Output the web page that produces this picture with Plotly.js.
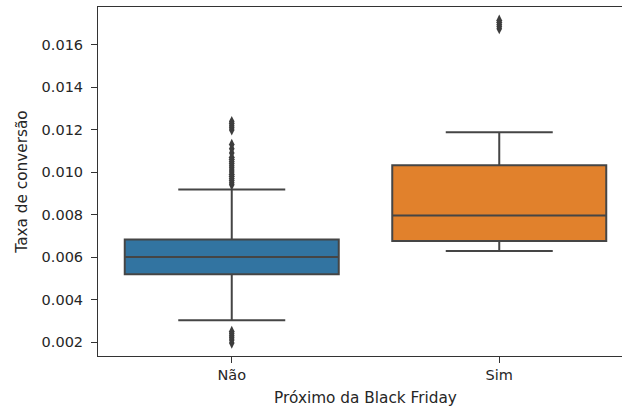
<!DOCTYPE html>
<html>
<head>
<meta charset="utf-8">
<script src="https://cdn.plot.ly/plotly-3.0.1.min.js"></script>
<style>
html,body{margin:0;padding:0;overflow:hidden;background:#fff;}
#chart{width:640px;height:407px;}
</style>
</head>
<body>
<div id="chart"></div>
<script>
// Data
const categories = ['Não', 'Sim'];
const q1 = [0.00519, 0.00676];
const median = [0.00600, 0.00795];
const q3 = [0.00683, 0.01032];
const lowerFence = [0.00302, 0.00628];
const upperFence = [0.00918, 0.01187];
const outliersNao = [0.00195, 0.0021, 0.0022, 0.0023, 0.0024, 0.0025,
  0.0094, 0.0095, 0.0096, 0.0097, 0.0098, 0.0099, 0.0100, 0.0101, 0.0102,
  0.0103, 0.0104, 0.0105, 0.0106, 0.0107, 0.0109, 0.0111, 0.0113,
  0.01198, 0.01208, 0.01218, 0.01228, 0.01238];
const outliersSim = [0.01675, 0.01685, 0.01695, 0.01705, 0.01715];
const yTicks = [0.002, 0.004, 0.006, 0.008, 0.010, 0.012, 0.014, 0.016];

const colors = ['#3274a1', '#e1812c'];
const lineGray = '#454545';
const outlierSets = [outliersNao, outliersSim];

const traces = [];
categories.forEach((c, i) => {
  traces.push({
    type: 'box',
    x: [c],
    q1: [q1[i]], median: [median[i]], q3: [q3[i]],
    lowerfence: [lowerFence[i]], upperfence: [upperFence[i]],
    fillcolor: colors[i],
    line: {color: lineGray, width: 2},
    width: 0.8,
    whiskerwidth: 0.5,
    boxpoints: false,
    showlegend: false,
    hoverinfo: 'skip'
  });
  traces.push({
    type: 'scatter', mode: 'markers',
    x: outlierSets[i].map(() => c),
    y: outlierSets[i],
    marker: {symbol: 'diamond-tall', size: 8, color: '#3d3d3d'},
    showlegend: false,
    hoverinfo: 'skip'
  });
});

const layout = {
  width: 640, height: 407,
  margin: {l: 98, r: 7, t: 7, b: 51},
  paper_bgcolor: '#fff', plot_bgcolor: '#fff',
  font: {family: 'DejaVu Sans', size: 14.5, color: '#262626'},
  showlegend: false,
  xaxis: {
    type: 'category', categoryorder: 'array', categoryarray: categories,
    range: [-0.5, 1.5],
    showgrid: false, zeroline: false,
    showline: true, mirror: true, linecolor: '#333', linewidth: 1,
    ticks: 'outside', ticklen: 6, tickcolor: '#333', tickwidth: 1,
    title: {text: 'Próximo da Black Friday', font: {size: 15.3}, standoff: 9}
  },
  yaxis: {
    range: [0.001341, 0.01777],
    tickmode: 'array', tickvals: yTicks,
    ticktext: yTicks.map(v => v.toFixed(3)),
    showgrid: false, zeroline: false,
    showline: true, mirror: true, linecolor: '#333', linewidth: 1,
    ticks: 'outside', ticklen: 6, tickcolor: '#333', tickwidth: 1,
    ticklabelstandoff: 5,
    title: {text: 'Taxa de conversão', font: {size: 15.3}, standoff: 10}
  }
};

Plotly.newPlot('chart', traces, layout, {staticPlot: true, displayModeBar: false});
</script>
</body>
</html>
